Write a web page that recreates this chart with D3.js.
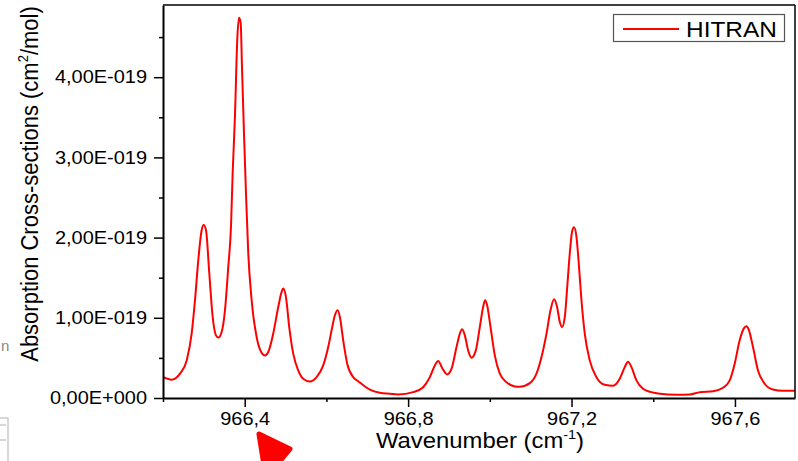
<!DOCTYPE html>
<html>
<head>
<meta charset="utf-8">
<script src="https://cdn.jsdelivr.net/npm/d3@7"></script>
<style>
  body { margin: 0; background: #fff; }
  svg { display: block; font-family: "Liberation Sans", Arial, sans-serif; }
</style>
</head>
<body>
<svg id="chart" width="798" height="461"></svg>
<script>
// spectrum (cross-section in units of 1e-19 cm2/mol)
const wavenumber = [
  966.2007, 966.2213, 966.2416, 966.2580, 966.2702, 966.2783, 966.2864, 966.2947, 966.2996, 966.3052,
  966.3133, 966.3216, 966.3297, 966.3353, 966.3436, 966.3517, 966.3598, 966.3664, 966.3705, 966.3761,
  966.3818, 966.3859, 966.3901, 966.3933, 966.3982, 966.4031, 966.4087, 966.4170, 966.4292, 966.4373,
  966.4495, 966.4576, 966.4698, 966.4821, 966.4904, 966.4943, 966.5009, 966.5090, 966.5188, 966.5310,
  966.5432, 966.5596, 966.5760, 966.5922, 966.6044, 966.6127, 966.6208, 966.6274, 966.6330, 966.6411,
  966.6509, 966.6656, 966.6778, 966.6942, 966.7106, 966.7309, 966.7554, 966.7757, 966.8124, 966.8368,
  966.8532, 966.8654, 966.8735, 966.8843, 966.8955, 966.9063, 966.9185, 966.9266, 966.9322, 966.9388,
  966.9469, 966.9552, 966.9657, 966.9755, 966.9836, 966.9885, 966.9934, 967.0017, 967.0122, 967.0245,
  967.0408, 967.0612, 967.0734, 967.0979, 967.1142, 967.1265, 967.1387, 967.1485, 967.1573, 967.1646,
  967.1713, 967.1769, 967.1835, 967.1901, 967.1957, 967.2013, 967.2062, 967.2121, 967.2177, 967.2243,
  967.2324, 967.2446, 967.2610, 967.2813, 967.3017, 967.3180, 967.3303, 967.3384, 967.3467, 967.3589,
  967.3750, 967.3956, 967.4159, 967.4568, 967.4893, 967.5138, 967.5463, 967.5708, 967.5872, 967.5994,
  967.6116, 967.6214, 967.6280, 967.6344, 967.6442, 967.6564, 967.6728, 967.6931, 967.7176, 967.7470
];
const crossSection = [
  0.260, 0.228, 0.303, 0.469, 0.806, 1.219, 1.719, 2.094, 2.156, 2.094,
  1.556, 1.010, 0.781, 0.753, 0.823, 1.094, 1.635, 2.135, 2.803, 3.510,
  4.469, 4.740, 4.681, 4.135, 3.306, 2.556, 1.806, 1.219, 0.760, 0.606,
  0.531, 0.573, 0.803, 1.135, 1.323, 1.365, 1.260, 0.885, 0.553, 0.344,
  0.240, 0.206, 0.260, 0.406, 0.635, 0.844, 1.031, 1.094, 1.010, 0.719,
  0.428, 0.260, 0.210, 0.144, 0.094, 0.065, 0.053, 0.044, 0.073, 0.135,
  0.260, 0.406, 0.460, 0.365, 0.294, 0.365, 0.635, 0.803, 0.856, 0.781,
  0.594, 0.503, 0.594, 0.885, 1.135, 1.219, 1.156, 0.885, 0.531, 0.303,
  0.198, 0.144, 0.140, 0.185, 0.303, 0.510, 0.803, 1.094, 1.231, 1.135,
  0.948, 0.885, 1.010, 1.428, 1.803, 2.073, 2.128, 2.010, 1.678, 1.219,
  0.803, 0.469, 0.260, 0.165, 0.153, 0.240, 0.385, 0.453, 0.385, 0.219,
  0.115, 0.073, 0.053, 0.040, 0.044, 0.073, 0.085, 0.128, 0.219, 0.428,
  0.719, 0.865, 0.894, 0.844, 0.635, 0.344, 0.178, 0.106, 0.090, 0.090
];

const xTicks = [966.4, 966.8, 967.2, 967.6];
const xTickLabels = ["966,4", "966,8", "967,2", "967,6"];
const xMinorTicks = [966.2, 966.6, 967.0, 967.4];
const yTicks = [0, 1, 2, 3, 4];
const yTickLabels = ["0,00E+000", "1,00E-019", "2,00E-019", "3,00E-019", "4,00E-019"];
const yMinorTicks = [0.5, 1.5, 2.5, 3.5, 4.5];
const seriesName = "HITRAN";

const svg = d3.select("#chart");
const plotL = 163, plotR = 795, plotT = 5, plotB = 398;
const stretch = 1.11; // the original screenshot text is a bit wide

const x = d3.scaleLinear().domain([966.2, 967.747]).range([plotL, plotR]);
const y = d3.scaleLinear().domain([0, 4.9]).range([plotB, plotT]);

// clip for the curve
svg.append("clipPath").attr("id", "plotClip")
  .append("rect").attr("x", plotL).attr("y", plotT).attr("width", plotR - plotL).attr("height", plotB - plotT);

const line = d3.line()
  .x((d, i) => x(wavenumber[i]))
  .y(d => y(d))
  .curve(d3.curveMonotoneX);

svg.append("path")
  .datum(crossSection)
  .attr("clip-path", "url(#plotClip)")
  .attr("fill", "none")
  .attr("stroke", "#ff0000")
  .attr("stroke-width", 2)
  .attr("stroke-linejoin", "round")
  .attr("d", line);

// frame top/right
svg.append("line").attr("x1", plotL).attr("x2", plotR).attr("y1", plotT).attr("y2", plotT)
  .attr("stroke", "#000").attr("stroke-width", 1.5);
svg.append("line").attr("x1", plotR).attr("x2", plotR).attr("y1", plotT).attr("y2", plotB)
  .attr("stroke", "#000").attr("stroke-width", 1.5);

// axes
const gx = svg.append("g").attr("transform", `translate(0,${plotB})`)
  .call(d3.axisBottom(x).tickValues(xTicks).tickFormat((d, i) => xTickLabels[i])
    .tickSize(9).tickSizeOuter(0).tickPadding(5));
svg.append("g").attr("transform", `translate(0,${plotB})`)
  .call(d3.axisBottom(x).tickValues(xMinorTicks).tickFormat("").tickSize(4).tickSizeOuter(0))
  .select(".domain").remove();

const gy = svg.append("g").attr("transform", `translate(${plotL},0)`)
  .call(d3.axisLeft(y).tickValues(yTicks).tickFormat((d, i) => yTickLabels[i])
    .tickSize(9).tickSizeOuter(0).tickPadding(5.4));
svg.append("g").attr("transform", `translate(${plotL},0)`)
  .call(d3.axisLeft(y).tickValues(yMinorTicks).tickFormat("").tickSize(4).tickSizeOuter(0))
  .select(".domain").remove();

svg.selectAll(".domain").attr("stroke", "#000").attr("stroke-width", 2);
svg.selectAll(".tick line").attr("stroke", "#000").attr("stroke-width", 1.5);
svg.selectAll(".tick text").attr("fill", "#000").style("font-size", "18px")
  .style("font-family", "'Liberation Sans', Arial, sans-serif")
  .attr("transform", `scale(${stretch},1)`);

// axis titles
const xt = svg.append("text")
  .attr("transform", `translate(480,448) scale(${stretch},1)`)
  .attr("text-anchor", "middle")
  .style("font-size", "21.5px").attr("fill", "#000");
xt.append("tspan").text("Wavenumber (cm");
xt.append("tspan").attr("dy", -9).style("font-size", "13px").text("-1");
xt.append("tspan").attr("dy", 9).text(")");

const yt = svg.append("text")
  .attr("transform", `translate(38,184) scale(${stretch},1) rotate(-90)`)
  .attr("text-anchor", "middle")
  .style("font-size", "22px").attr("fill", "#000");
yt.append("tspan").text("Absorption Cross-sections (cm");
yt.append("tspan").attr("dy", -9).style("font-size", "13px").text("2");
yt.append("tspan").attr("dy", 9).text("/mol)");

// legend
const lg = svg.append("g");
lg.append("rect").attr("x", 613.5).attr("y", 14.5).attr("width", 171).attr("height", 27)
  .attr("fill", "#fff").attr("stroke", "#555").attr("stroke-width", 1.2);
lg.append("line").attr("x1", 623).attr("x2", 679).attr("y1", 29).attr("y2", 29)
  .attr("stroke", "#ff0000").attr("stroke-width", 2);
lg.append("text").attr("transform", `translate(686,37) scale(${stretch},1)`)
  .style("font-size", "22px").attr("fill", "#000")
  .text(seriesName);

// screenshot leftovers: gray letter and red arrow head
svg.append("text").attr("x", 1).attr("y", 351).style("font-size", "15px").attr("fill", "#888").text("n");
svg.append("path")
  .attr("d", "M-2,418 L8,418 L8,461 M0,425 L6,425 M0,440 L6,440")
  .attr("fill", "none").attr("stroke", "#ccc").attr("stroke-width", 1.5);
svg.append("path")
  .attr("d", "M259,434 L290,449 L266,478 Z")
  .attr("fill", "#ff0000").attr("stroke", "#ff0000").attr("stroke-width", 5).attr("stroke-linejoin", "round");
</script>
</body>
</html>
